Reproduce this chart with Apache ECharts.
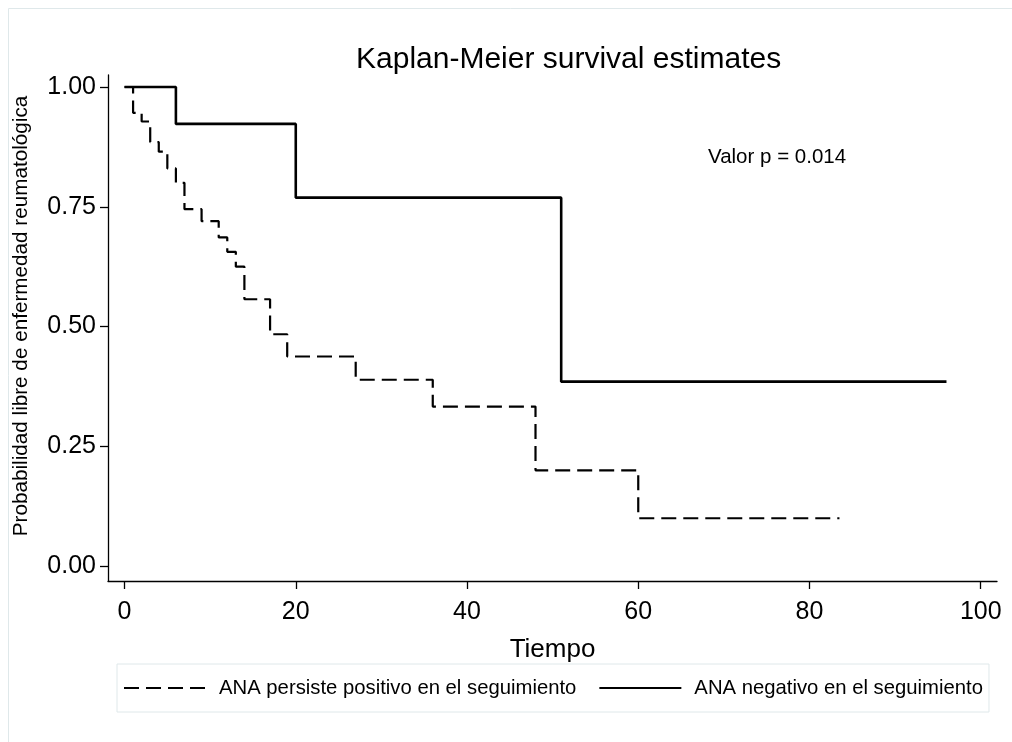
<!DOCTYPE html>
<html>
<head>
<meta charset="utf-8">
<script src="https://cdn.jsdelivr.net/npm/echarts@6/dist/echarts.min.js"></script>
<style>
  html, body { margin: 0; padding: 0; background: #fff; }
  #km { width: 1012px; height: 742px; }
</style>
</head>
<body>
<div id="km"></div>
<script>
// datos
var xTicks = [0, 20, 40, 60, 80, 100];
var yTicks = [0, 0.25, 0.5, 0.75, 1];

var posName = "ANA persiste positivo en el seguimiento";
var posTime = [0, 1, 2, 3, 4, 5, 6, 7, 9, 11, 12, 13, 14, 17, 19, 27, 36, 48, 60, 83.5];
var posSurv = [1, 0.946, 0.928, 0.885, 0.865, 0.83, 0.80, 0.745, 0.72, 0.686, 0.656, 0.625, 0.557, 0.484, 0.4375, 0.389, 0.333, 0.2, 0.1, 0.1];

var negName = "ANA negativo en el seguimiento";
var negTime = [0, 6, 20, 51, 96];
var negSurv = [1, 0.923, 0.769, 0.385, 0.385];

var font = '"Liberation Sans", Arial, sans-serif';

function pairs(t, s) {
  return t.map(function (v, i) { return [v, s[i]]; });
}

var myChart = echarts.init(document.getElementById("km"));

var option = {
  backgroundColor: "#fff",
  animation: false,
  textStyle: { fontFamily: font, color: "#000" },
  title: {
    text: "Kaplan-Meier survival estimates",
    left: 351,
    top: 40,
    textStyle: { fontFamily: font, fontSize: 30, fontWeight: "normal", color: "#000" },
  },
  grid: {
    left: 108,
    right: 15,
    top: 75,
    bottom: 161,
    containLabel: false,
    outerBoundsMode: "none",
  },
  legend: {
    left: 117,
    top: 664,
    padding: [14, 6, 14, 6],
    borderColor: "#dfe8ea",
    borderWidth: 1,
    itemWidth: 82,
    itemHeight: 16,
    itemGap: 22,
    itemStyle: { opacity: 0 },
    data: [posName, negName],
    textStyle: { fontFamily: font, fontSize: 20.3, color: "#000", padding: [0, 0, 0, 8] },
  },
  xAxis: {
    type: "value",
    min: -1.93,
    max: 101.9,
    name: "Tiempo",
    nameLocation: "middle",
    nameGap: 56,
    nameTextStyle: { fontFamily: font, fontSize: 26, color: "#000" },
    axisLine: { show: true, onZero: false, lineStyle: { color: "#000", width: 1.3 } },
    axisTick: { show: true, length: 8, customValues: xTicks, lineStyle: { color: "#000", width: 1.3 } },
    axisLabel: { customValues: xTicks, margin: 19, fontSize: 25, color: "#000", fontFamily: font },
    splitLine: { show: false },
  },
  yAxis: {
    type: "value",
    min: -0.031,
    max: 1.025,
    name: "Probabilidad libre de enfermedad reumatológica",
    nameLocation: "middle",
    nameGap: 76,
    nameTextStyle: { fontFamily: font, fontSize: 20.7, color: "#000", padding: [0, 0, 0, 24] },
    axisLine: { show: true, onZero: false, lineStyle: { color: "#000", width: 1.3 } },
    axisTick: { show: true, length: 8, customValues: yTicks, lineStyle: { color: "#000", width: 1.3 } },
    axisLabel: {
      customValues: yTicks,
      margin: 12,
      fontSize: 25,
      color: "#000",
      fontFamily: font,
      formatter: function (v) { return v.toFixed(2); },
    },
    splitLine: { show: false },
  },
  graphic: [
    {
      type: "rect",
      silent: true,
      shape: { x: 8.5, y: 8.5, width: 1100, height: 800 },
      style: { fill: null, stroke: "#dfe8ea", lineWidth: 1 },
    },
    {
      type: "text",
      left: 708,
      top: 147,
      style: { text: "Valor p = 0.014", font: "20.5px " + font, fill: "#000" },
    },
  ],
  series: [
    {
      name: posName,
      type: "line",
      step: "end",
      symbol: "none",
      data: pairs(posTime, posSurv),
      lineStyle: { color: "#000", width: 2.2, type: [15, 7] },
      itemStyle: { color: "#000" },
    },
    {
      name: negName,
      type: "line",
      step: "end",
      symbol: "none",
      data: pairs(negTime, negSurv),
      lineStyle: { color: "#000", width: 2.6, type: "solid" },
      itemStyle: { color: "#000" },
    },
  ],
};

myChart.setOption(option);
</script>
</body>
</html>
